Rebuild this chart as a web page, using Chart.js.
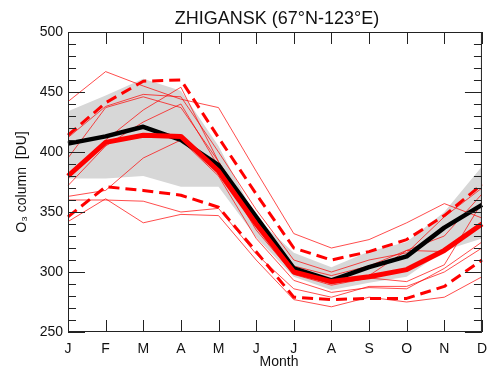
<!DOCTYPE html>
<html>
<head>
<meta charset="utf-8">
<script src="https://cdn.jsdelivr.net/npm/chart.js@4.4.0/dist/chart.umd.min.js"></script>
<style>
  html, body { margin: 0; padding: 0; background: #fff; }
</style>
</head>
<body>
<canvas id="myChart" width="496" height="375"></canvas>
<script>
// months on the x axis
const months = ['J', 'F', 'M', 'A', 'M', 'J', 'J', 'A', 'S', 'O', 'N', 'D'];

// grey envelope
const bandUpper = [434, 447, 461, 451, 405, 345, 316, 304, 317, 325, 350, 388];
const bandLower = [378, 378, 380, 371, 371, 329, 296, 285, 291, 296, 318, 328];

// black thick: climatology
const climMean = [407, 413, 421, 410, 389, 346, 303, 293, 304, 313, 337, 356];
// red thick: mean of the years
const yearsMean = [380, 408, 414, 413, 384, 340, 300, 292, 296, 302, 318, 340];
// red dashed: +/- spread
const dashUpper = [414, 441, 459, 460, 412, 365, 320, 310, 317, 327, 347, 373];
const dashLower = [346, 371, 368, 364, 354, 317, 279, 277, 278, 278, 288, 310];

// thin red: single years
const year1 = [442, 467, 455, 444, 437, 384, 332, 320, 327, 341, 357, 345];
const year2 = [412, 438, 448, 446, 400, 352, 310, 300, 310, 316, 346, 370];
const year3 = [395, 437, 446, 437, 392, 345, 305, 297, 305, 318, 330, 365];
const year4 = [381, 410, 435, 454, 392, 340, 300, 290, 297, 318, 317, 342];
const year5 = [372, 405, 425, 440, 388, 335, 298, 289, 295, 292, 306, 358];
const year6 = [363, 368, 395, 410, 380, 328, 293, 283, 287, 286, 303, 325];
const year7 = [360, 360, 359, 350, 353, 315, 286, 279, 288, 288, 300, 320];
const year8 = [342, 361, 341, 348, 347, 310, 277, 271, 279, 275, 279, 296];

const FONT = "'Liberation Sans', Arial, Helvetica, sans-serif";

// box, inward tick marks and the texts
const frameTicks = {
    id: 'frameTicks',
    afterDatasetsDraw(chart) {
        const ctx = chart.ctx;
        const a = chart.chartArea;
        const xs = chart.scales.x;
        const ys = chart.scales.y;
        ctx.save();
        ctx.strokeStyle = '#222';
        ctx.lineWidth = 1;
        ctx.strokeRect(a.left + 0.5, a.top + 0.5, a.right - a.left - 1, a.bottom - a.top - 1);
        ctx.beginPath();
        for (let i = 0; i < months.length; i++) {
            const px = Math.round(xs.getPixelForValue(i)) + 0.5;
            ctx.moveTo(px, a.bottom); ctx.lineTo(px, a.bottom - 12);
            ctx.moveTo(px, a.top); ctx.lineTo(px, a.top + 12);
        }
        for (let v = ys.min; v <= ys.max; v += 10) {
            const py = Math.round(ys.getPixelForValue(v)) + 0.5;
            const len = v % 50 === 0 ? 17 : 8;
            ctx.moveTo(a.left, py); ctx.lineTo(a.left + len, py);
            ctx.moveTo(a.right, py); ctx.lineTo(a.right - len, py);
        }
        ctx.stroke();

        ctx.fillStyle = '#111';
        ctx.textAlign = 'center';
        ctx.textBaseline = 'alphabetic';
        ctx.font = '18px ' + FONT;
        ctx.fillText('ZHIGANSK (67°N-123°E)', 277, 24);

        ctx.font = '14px ' + FONT;
        ctx.textBaseline = 'middle';
        ctx.fillText('Month', 279, 362);

        ctx.translate(22, (a.top + a.bottom) / 2);
        ctx.rotate(-Math.PI / 2);
        ctx.fillText('O\u2083 column  [DU]', 0, 0);
        ctx.restore();
    }
};

function thin(data) {
    return { data: data, borderColor: 'rgba(255, 0, 0, 0.7)', borderWidth: 1, order: 3 };
}

var ctx = document.getElementById('myChart').getContext('2d');
var myChart = new Chart(ctx, {
    type: 'line',
    data: {
        labels: months,
        datasets: [
            { data: yearsMean, borderColor: '#ff0000', borderWidth: 5, order: 0 },
            { data: climMean, borderColor: '#000000', borderWidth: 4.5, order: 1 },
            { data: dashUpper, borderColor: '#ff0000', borderWidth: 3, borderDash: [11, 6], order: 2 },
            { data: dashLower, borderColor: '#ff0000', borderWidth: 3, borderDash: [11, 6], order: 2 },
            thin(year1), thin(year2), thin(year3), thin(year4),
            thin(year5), thin(year6), thin(year7), thin(year8),
            { data: bandUpper, borderWidth: 0, borderColor: 'rgba(0,0,0,0)', backgroundColor: '#d7d7d7', fill: '+1', order: 5 },
            { data: bandLower, borderWidth: 0, borderColor: 'rgba(0,0,0,0)', fill: false, order: 5 }
        ]
    },
    options: {
        responsive: false,
        animation: false,
        events: [],
        elements: {
            point: { radius: 0 },
            line: { tension: 0, borderJoinStyle: 'round' }
        },
        layout: { padding: { top: 32, right: 6, left: 0, bottom: 0 } },
        plugins: {
            legend: { display: false },
            tooltip: { enabled: false },
            title: { display: false }
        },
        scales: {
            x: {
                type: 'category',
                offset: false,
                grid: { display: false, drawTicks: false, tickLength: 0 },
                border: { display: false },
                ticks: {
                    autoSkip: false, maxRotation: 0, padding: 9,
                    color: '#111', font: { family: FONT, size: 14 }
                },
                afterFit(scale) { scale.height = 43; }
            },
            y: {
                min: 250,
                max: 500,
                grid: { display: false, drawTicks: false, tickLength: 0 },
                border: { display: false },
                ticks: {
                    autoSkip: false,
                    stepSize: 10,
                    padding: 5,
                    color: '#111',
                    font: { family: FONT, size: 14 },
                    callback: v => (v % 50 === 0 ? v : '')
                },
                afterFit(scale) { scale.width = 68; }
            }
        }
    },
    plugins: [frameTicks]
});
</script>
</body>
</html>
